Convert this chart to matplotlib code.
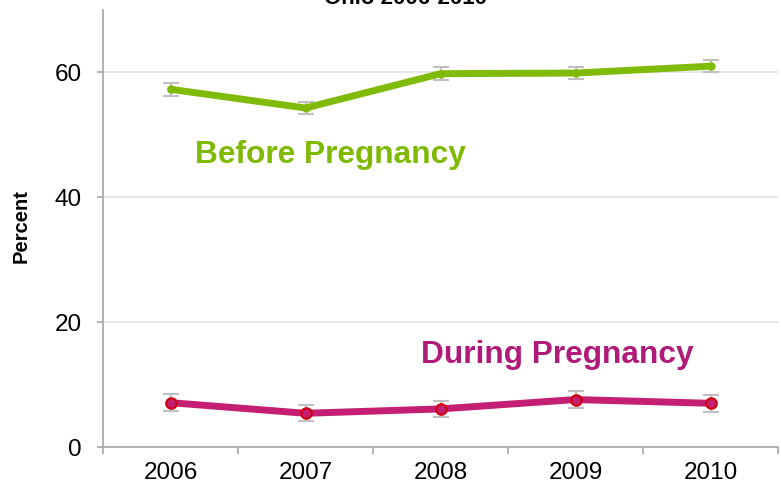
import numpy as np
from matplotlib import pyplot as plt

plt.rcParams['font.family'] = ['Liberation Sans', 'DejaVu Sans']

# data
years = ['2006', '2007', '2008', '2009', '2010']
before = [57.3, 54.3, 59.8, 59.9, 61.0]
before_err = [1.0, 0.9, 1.0, 1.0, 1.0]
during = [7.1, 5.4, 6.1, 7.6, 7.0]
during_err = [1.4, 1.3, 1.3, 1.4, 1.35]

green = '#80BB0A'
magenta = '#C41F72'
grey = '#A6A6A6'

fig = plt.figure(figsize=(7.81, 4.84), dpi=100)
ax = fig.add_axes([103/781, 1-447/484, 675/781, 437/484])
x = np.arange(len(years))

ax.errorbar(x, before, yerr=before_err, fmt='none', ecolor='#C0C0C0',
            elinewidth=1.5, capsize=6, capthick=1.5, zorder=2)
ax.plot(x, before, color=green, lw=5, marker='o', ms=5,
        solid_capstyle='round', zorder=3)

ax.errorbar(x, during, yerr=during_err, fmt='none', ecolor='#C0C0C0',
            elinewidth=1.5, capsize=6, capthick=1.5, zorder=2)
ax.plot(x, during, color=magenta, lw=5, marker='o', ms=7.5,
        mfc=magenta, mec='#D00010', mew=1.6, zorder=3)

ax.text(0.18, 46.7, 'Before Pregnancy', color='#7FBA00', fontsize=22.8,
        fontweight='bold', ha='left', va='center')
ax.text(1.855, 14.7, 'During Pregnancy', color='#B01A78', fontsize=22.8,
        fontweight='bold', ha='left', va='center')

ax.set_xlim(-0.5, 4.5)
ax.set_ylim(0, 70)
ax.set_yticks([0, 20, 40, 60])
ax.set_xticks(np.arange(-0.5, 5, 1))
ax.set_xticklabels([])
ax.set_xticks(x, minor=True)
ax.set_xticklabels(years, minor=True)
ax.tick_params(axis='x', which='major', length=5, width=1.2, color=grey, direction='out')
ax.tick_params(axis='x', which='minor', length=0, pad=10.5, labelsize=17.5)
ax.tick_params(axis='y', length=4.5, width=1.2, color=grey, pad=11, labelsize=17.5)

ax.grid(axis='y', color='#E3E3E3', lw=1.2)
ax.set_axisbelow(True)
for s in ['top', 'right']:
    ax.spines[s].set_visible(False)
for s in ['left', 'bottom']:
    ax.spines[s].set_color(grey)
    ax.spines[s].set_linewidth(1.2)

ax.set_ylabel('Percent', fontsize=14.5, fontweight='bold')
ax.yaxis.set_label_coords(-0.107, 0.506)

# title sits mostly above the visible area
fig.text(405/781, 1-4/484, 'Ohio 2006-2010', fontsize=16, fontweight='bold',
         ha='center', va='baseline')

plt.savefig('out.png', dpi=100)
